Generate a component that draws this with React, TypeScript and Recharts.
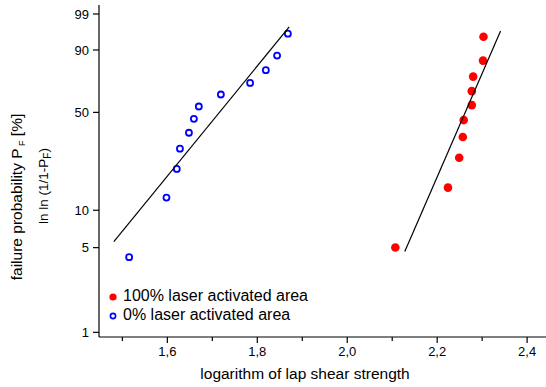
import React from "react"
import { Legend, Scatter, ScatterChart, XAxis, YAxis } from "recharts"

// Weibull plot: y values are ln(ln(1/(1-P)))
const laser100 = [
  { x: 2.107, y: -2.968 },
  { x: 2.224, y: -1.815 },
  { x: 2.249, y: -1.239 },
  { x: 2.257, y: -0.842 },
  { x: 2.259, y: -0.515 },
  { x: 2.277, y: -0.227 },
  { x: 2.277, y: 0.042 },
  { x: 2.28, y: 0.322 },
  { x: 2.302, y: 0.63 },
  { x: 2.303, y: 1.09 },
]

const laser0 = [
  { x: 1.515, y: -3.154 },
  { x: 1.598, y: -2.007 },
  { x: 1.621, y: -1.456 },
  { x: 1.628, y: -1.066 },
  { x: 1.648, y: -0.759 },
  { x: 1.659, y: -0.49 },
  { x: 1.67, y: -0.254 },
  { x: 1.719, y: -0.023 },
  { x: 1.784, y: 0.201 },
  { x: 1.819, y: 0.445 },
  { x: 1.844, y: 0.726 },
  { x: 1.868, y: 1.148 },
]

const fit100 = [
  { x: 2.128, y: -3.044 },
  { x: 2.341, y: 1.2 },
]

const fit0 = [
  { x: 1.481, y: -2.852 },
  { x: 1.871, y: 1.277 },
]

const yTickPercents = [1, 5, 10, 50, 90, 99]
const xMajorTicks = [1.6, 1.8, 2.0, 2.2, 2.4]
const xMinorTicks = [1.5, 1.7, 1.9, 2.1, 2.3]

const weibull = (p: number) => Math.log(-Math.log(1 - p / 100))
const yTicks = yTickPercents.map(weibull)
const xTicks = [...xMajorTicks, ...xMinorTicks].sort((a, b) => a - b)

const FONT = "Arial, 'Liberation Sans', Helvetica, sans-serif"

const XTick = (props: any) => {
  const { x, y, payload } = props
  const major = xMajorTicks.some((t) => Math.abs(t - payload.value) < 1e-6)
  return (
    <g>
      <line x1={x} x2={x} y1={y} y2={y + (major ? 6 : 4)} stroke="#000" strokeWidth={1.2} />
      {major && (
        <text x={x} y={y + 10} dy="0.71em" textAnchor="middle" fontSize={13} fill="#000" fontFamily={FONT}>
          {payload.value.toFixed(1).replace(".", ",")}
        </text>
      )}
    </g>
  )
}

const YLabels = () => (
  <g fontFamily={FONT} fill="#000">
    <text x={22} y={197} fontSize={15.5} textAnchor="middle" transform="rotate(-90 22 197)">
      failure probability P
      <tspan fontSize={9} dy={3}> F</tspan>
      <tspan dy={-3}> [%]</tspan>
    </text>
    <text x={48} y={186} fontSize={13.5} textAnchor="middle" transform="rotate(-90 48 186)">
      ln ln (1/1-P
      <tspan fontSize={10} dy={3}>F</tspan>
      <tspan dy={-3}>)</tspan>
    </text>
  </g>
)

const XLabel = () => (
  <text x={305} y={379} fontSize={15.5} textAnchor="middle" fill="#000" fontFamily={FONT}>
    logarithm of lap shear strength
  </text>
)

const RedDot = (props: any) => <circle cx={props.cx} cy={props.cy} r={4.3} fill="#ff0000" />
const BlueRing = (props: any) => (
  <circle cx={props.cx} cy={props.cy} r={3} fill="none" stroke="#0000ff" strokeWidth={1.8} />
)
const NoDot = () => null

const LegendBox = () => (
  <div style={{ fontFamily: FONT, fontSize: 16, color: "#000", lineHeight: "19px", whiteSpace: "nowrap" }}>
    <div style={{ display: "flex", alignItems: "center" }}>
      <svg width={19} height={19}>
        <circle cx={9} cy={11} r={3.6} fill="#ff0000" />
      </svg>
      <span>100% laser activated area</span>
    </div>
    <div style={{ display: "flex", alignItems: "center" }}>
      <svg width={19} height={19}>
        <circle cx={9} cy={11} r={2.6} fill="none" stroke="#0000ff" strokeWidth={1.6} />
      </svg>
      <span>0% laser activated area</span>
    </div>
  </div>
)

export default function App() {
  return (
    <div style={{ position: "absolute", left: 0, top: 0, background: "#fff" }}>
      <ScatterChart width={546} height={387} margin={{ top: 5, right: 0, left: 0, bottom: 0 }}>
        <XAxis
          type="number"
          dataKey="x"
          domain={[1.448, 2.442]}
          ticks={xTicks}
          allowDataOverflow
          height={50}
          tickLine={false}
          tickSize={0}
          tickMargin={0}
          tick={<XTick />}
          axisLine={{ stroke: "#000", strokeWidth: 1.2 }}
          label={<XLabel />}
        />
        <YAxis
          type="number"
          dataKey="y"
          domain={[-4.69, 1.7]}
          ticks={yTicks}
          allowDataOverflow
          width={99}
          tickSize={6}
          tickMargin={4}
          tickFormatter={(v: number) => {
            const i = yTicks.findIndex((t) => Math.abs(t - v) < 1e-6)
            return i >= 0 ? String(yTickPercents[i]) : ""
          }}
          tick={{ fill: "#000", fontSize: 13, fontFamily: FONT }}
          tickLine={{ stroke: "#000", strokeWidth: 1.2 }}
          axisLine={{ stroke: "#000", strokeWidth: 1.2 }}
          label={<YLabels />}
        />
        <Legend
          layout="horizontal"
          verticalAlign="middle"
          align="center"
          content={<LegendBox />}
          wrapperStyle={{ position: "absolute", left: 104, top: 286, width: "auto" }}
        />
        <Scatter name="100% laser activated area" data={laser100} shape={<RedDot />} isAnimationActive={false} />
        <Scatter name="0% laser activated area" data={laser0} shape={<BlueRing />} isAnimationActive={false} />
        <Scatter
          data={fit100}
          line={{ stroke: "#000", strokeWidth: 1.2 }}
          shape={<NoDot />}
          legendType="none"
          isAnimationActive={false}
        />
        <Scatter
          data={fit0}
          line={{ stroke: "#000", strokeWidth: 1.2 }}
          shape={<NoDot />}
          legendType="none"
          isAnimationActive={false}
        />
      </ScatterChart>
    </div>
  )
}
